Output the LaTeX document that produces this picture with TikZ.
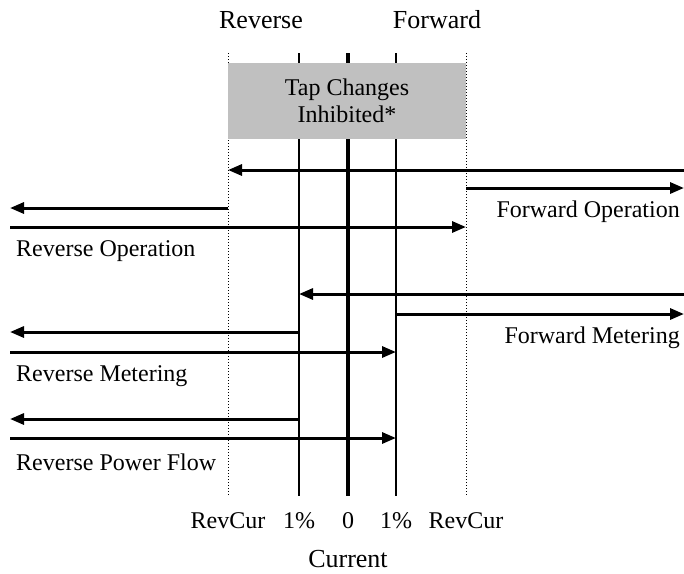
\documentclass[tikz,border=0pt]{standalone}
\usepackage{fontspec}
\setmainfont{Liberation Serif}
\usetikzlibrary{arrows.meta}
\definecolor{boxgrey}{RGB}{192,192,192}
\tikzset{
  arr/.style={line width=3pt,-{Triangle[length=14pt,width=11pt]}},
  thinv/.style={line width=2pt},
  thickv/.style={line width=4pt},
  dotv/.style={line width=1pt,dotted},
  lbl/.style={font=\fontsize{24pt}{27pt}\selectfont,inner sep=0pt},
  biglbl/.style={font=\fontsize{26pt}{29pt}\selectfont,inner sep=0pt},
}
\begin{document}
\begin{tikzpicture}[x=1pt,y=-1pt]
\useasboundingbox (0,0) rectangle (684,573);
% vertical reference lines
\coordinate (rt) at (228,53); \coordinate (rb) at (228,496);
\coordinate (mt) at (299,53); \coordinate (mb) at (299,496);
\coordinate (zt) at (348,53); \coordinate (zb) at (348,496);
\coordinate (pt) at (396,53); \coordinate (pb) at (396,496);
\coordinate (ft) at (466,53); \coordinate (fb) at (466,496);
\draw[dotv] (rt) -- (rb);
\draw[dotv] (ft) -- (fb);
\draw[thinv] (mt) -- (mb);
\draw[thinv] (pt) -- (pb);
\draw[thickv] (zt) -- (zb);
% inhibited box
\node[fill=boxgrey,minimum width=238pt,minimum height=76pt,inner sep=0pt,
      lbl,align=center] (box) at (347,101) {Tap Changes\\Inhibited*};
% top labels
\node[biglbl] (rev) at (261,20) {Reverse};
\node[biglbl] (fwd) at (437,20) {Forward};
% operation arrows
\coordinate (a1s) at (684,170); \coordinate (a1e) at (228,170);
\coordinate (a2s) at (466,188); \coordinate (a2e) at (684,188);
\coordinate (a3s) at (228,208); \coordinate (a3e) at (10,208);
\coordinate (a4s) at (10,227);  \coordinate (a4e) at (466,227);
\draw[arr] (a1s) -- (a1e);
\draw[arr] (a2s) -- (a2e);
\draw[arr] (a3s) -- (a3e);
\draw[arr] (a4s) -- (a4e);
\node[lbl,anchor=east] (fo) at (680,212) {Forward Operation};
\node[lbl,anchor=west] (ro) at (16,251) {Reverse Operation};
% metering arrows
\coordinate (b1s) at (684,294); \coordinate (b1e) at (299,294);
\coordinate (b2s) at (396,314); \coordinate (b2e) at (684,314);
\coordinate (b3s) at (299,332); \coordinate (b3e) at (10,332);
\coordinate (b4s) at (10,352);  \coordinate (b4e) at (396,352);
\draw[arr] (b1s) -- (b1e);
\draw[arr] (b2s) -- (b2e);
\draw[arr] (b3s) -- (b3e);
\draw[arr] (b4s) -- (b4e);
\node[lbl,anchor=east] (fm) at (680,338) {Forward Metering};
\node[lbl,anchor=west] (rm) at (16,376) {Reverse Metering};
% reverse power flow
\coordinate (c1s) at (299,419); \coordinate (c1e) at (10,419);
\coordinate (c2s) at (10,438);  \coordinate (c2e) at (396,438);
\draw[arr] (c1s) -- (c1e);
\draw[arr] (c2s) -- (c2e);
\node[lbl,anchor=west] (rp) at (16,462) {Reverse Power Flow};
% bottom axis labels
\node[lbl] (l1) at (228,521) {RevCur};
\node[lbl] (l2) at (299,521) {1\%};
\node[lbl] (l3) at (348,521) {0};
\node[lbl] (l4) at (396,521) {1\%};
\node[lbl] (l5) at (466,521) {RevCur};
\node[biglbl] (cur) at (348,559) {Current};
\end{tikzpicture}
\end{document}
